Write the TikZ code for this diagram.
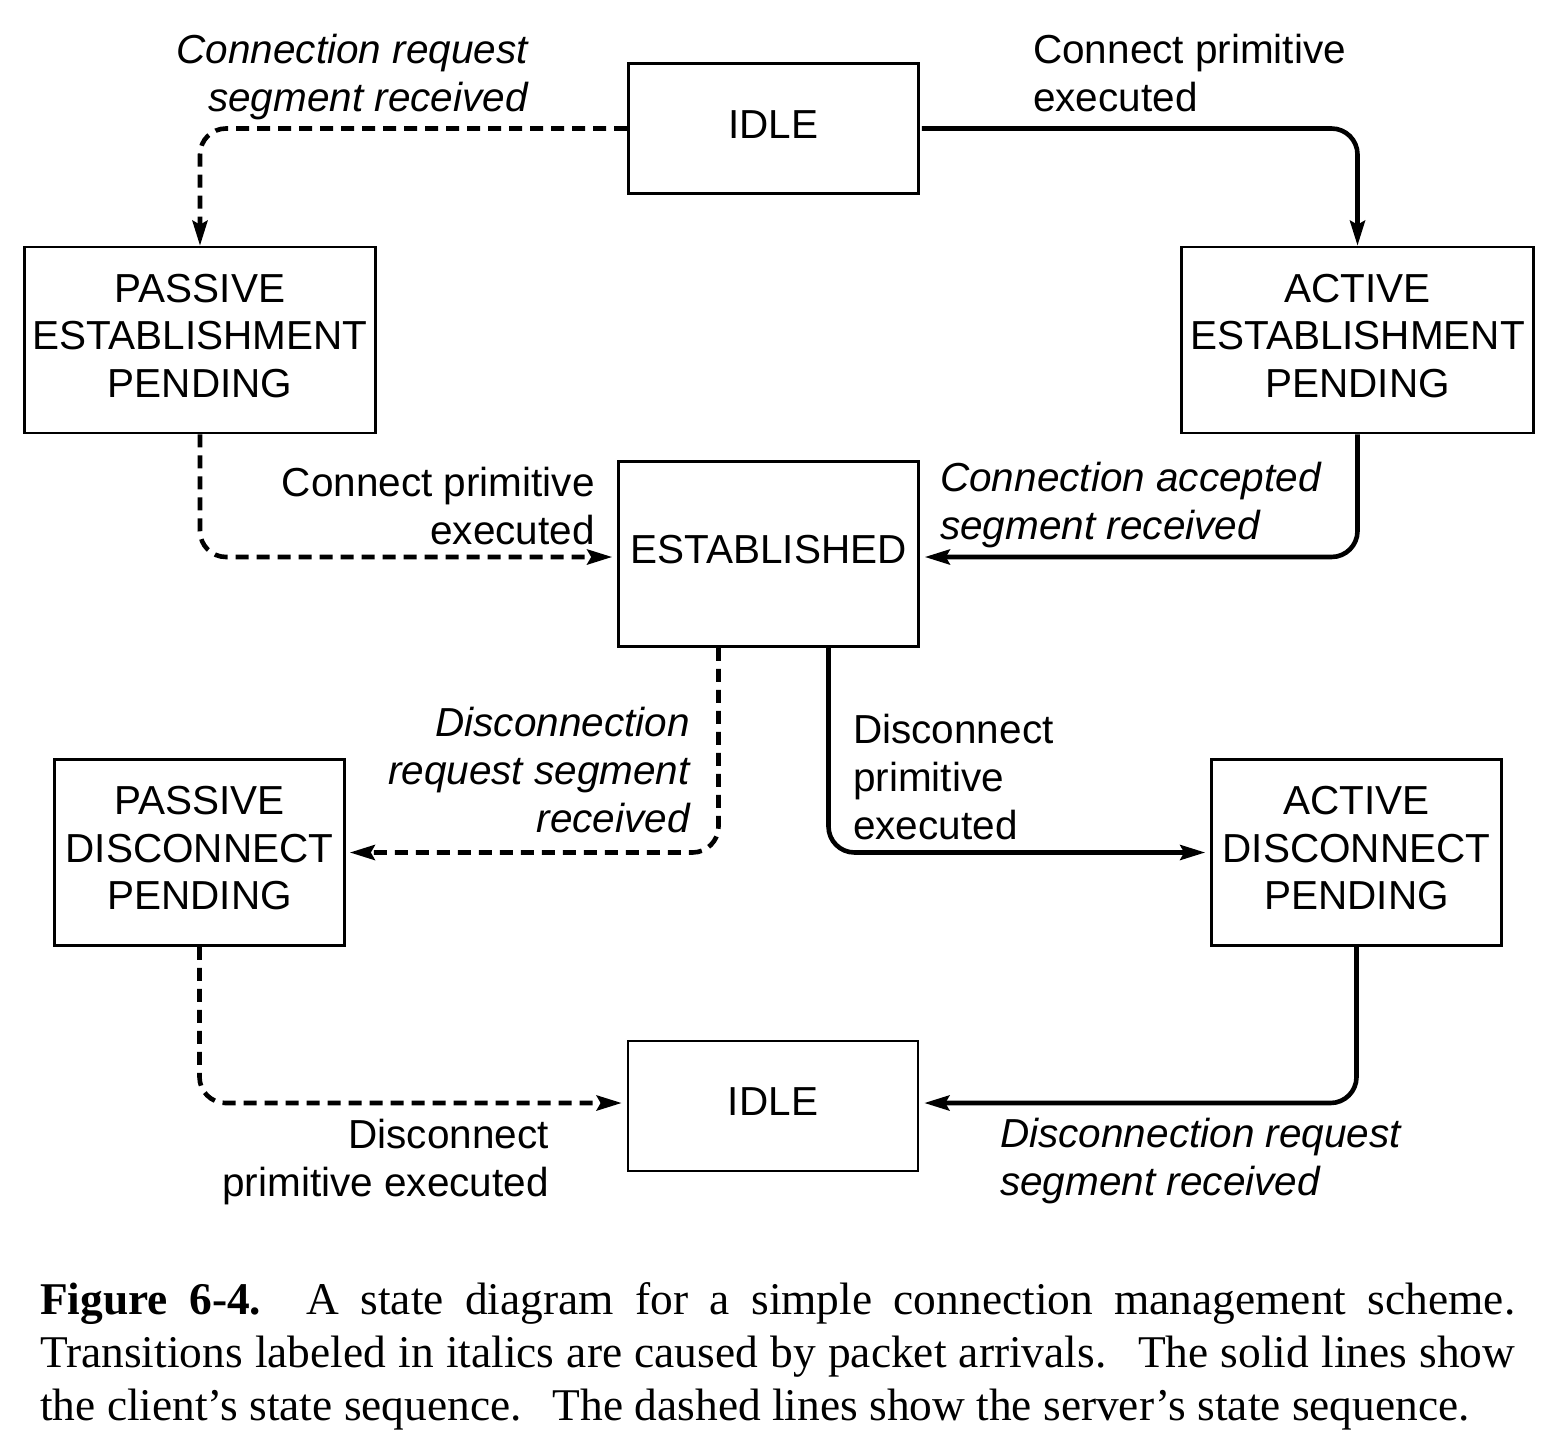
\documentclass[tikz,border=0pt]{standalone}
\usepackage{fontspec}
\setmainfont{Liberation Serif}
\newfontfamily\lsans{Liberation Sans}
\usetikzlibrary{arrows.meta}
\newcommand\clines[1]{\begin{tabular}{@{}c@{}}#1\end{tabular}}
\newcommand\rlines[1]{\begin{tabular}[t]{@{}r@{}}#1\end{tabular}}
\newcommand\llines[1]{\begin{tabular}[t]{@{}l@{}}#1\end{tabular}}
\begin{document}
\begin{tikzpicture}[x=1pt,y=-1pt,
  state/.style={draw, line width=2.6pt, inner sep=0pt, font=\lsans\fontsize{40.5}{47.5}\selectfont},
  lab/.style={inner sep=0pt, font=\lsans\fontsize{40.5}{48}\selectfont},
  ilab/.style={inner sep=0pt, font=\lsans\itshape\fontsize{40.5}{48}\selectfont},
  conn/.style={line width=4.6pt, rounded corners=26pt, -{Stealth[length=25pt,width=15pt,inset=4pt]}},
  dconn/.style={conn, dash pattern=on 13pt off 8pt}]
\useasboundingbox (0,0) rectangle (1552,1438);
\fill[white] (0,0) rectangle (1552,1438);

% states
\node[state, minimum width=290pt, minimum height=130pt] (idle1) at (773.5,128.5) {\clines{IDLE}};
\node[state, minimum width=351pt, minimum height=186pt] (pep) at (200,340) {\clines{PASSIVE\\ESTABLISHMENT\\PENDING}};
\node[state, minimum width=352pt, minimum height=186pt] (aep) at (1357.5,340) {\clines{ACTIVE\\ESTABLISHMENT\\PENDING}};
\node[state, minimum width=300pt, minimum height=185pt] (est) at (768.5,554) {\clines{ESTABLISHED}};
\node[state, minimum width=290pt, minimum height=186pt] (pdp) at (199.5,852.5) {\clines{PASSIVE\\DISCONNECT\\PENDING}};
\node[state, minimum width=290pt, minimum height=186pt] (adp) at (1356.5,852.5) {\clines{ACTIVE\\DISCONNECT\\PENDING}};
\node[state, minimum width=290pt, minimum height=130pt] (idle2) at (773,1106) {\clines{IDLE}};

% transitions
\draw[dconn] (idle1.west) -| (pep.north);
\draw[conn] ([xshift=2pt]idle1.east) -| (aep.north);
\draw[dconn, shorten >=5pt] (pep.south) |- ([yshift=-3pt]est.west);
\draw[conn, shorten >=5pt] (aep.south) |- ([yshift=-3pt]est.east);
\draw[dconn, shorten >=4pt] ([xshift=-50pt]est.south) |- (pdp.east);
\draw[conn, shorten >=5pt] ([xshift=60pt]est.south) |- (adp.west);
\draw[dconn, shorten >=5pt] (pdp.south) |- ([yshift=3pt]idle2.west);
\draw[conn, shorten >=5pt] (adp.south) |- ([yshift=3pt]idle2.east);

% labels
\node[ilab, anchor=base east] (l1) at (528,63) {\rlines{Connection request\\segment received}};
\node[lab, anchor=base west] (l2) at (1033,63) {\llines{Connect primitive\\executed}};
\node[lab, anchor=base east] (l3) at (595,496) {\rlines{Connect primitive\\executed}};
\node[ilab, anchor=base west] (l4) at (940,491) {\llines{Connection accepted\\segment received}};
\node[ilab, anchor=base east] (l5) at (690,736) {\rlines{Disconnection\\request segment\\received}};
\node[lab, anchor=base west] (l6) at (853,743) {\llines{Disconnect\\primitive\\executed}};
\node[lab, anchor=base east] (l7) at (549,1148) {\rlines{Disconnect\\primitive executed}};
\node[ilab, anchor=base west] (l8) at (1000,1147) {\llines{Disconnection request\\segment received}};

% caption
\node[anchor=north west, inner sep=0pt, text width=1475pt, align=justify,
      font=\fontsize{45.4}{53}\selectfont] (cap) at (40,1282)
  {\textbf{Figure 6-4.} A state diagram for a simple connection management scheme.\linebreak
   Transitions labeled in italics are caused by packet arrivals.\hspace{0.3em} The solid lines show\linebreak
   the client's state sequence.\hspace{0.35em} The dashed lines show the server's state sequence.};
\end{tikzpicture}
\end{document}
